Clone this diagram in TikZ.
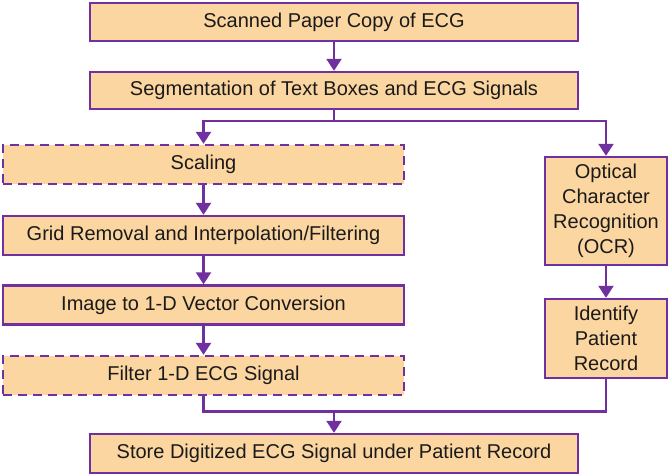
\documentclass[tikz,border=0pt]{standalone}
\usepackage{fontspec}
\setmainfont{Liberation Sans}
\usetikzlibrary{arrows.meta}
\definecolor{boxfill}{RGB}{252,214,160}
\definecolor{boxline}{RGB}{112,48,160}
\definecolor{txt}{RGB}{26,26,26}
\tikzset{
  stage/.style={draw=boxline, fill=boxfill, line width=2.4pt, rectangle,
    inner sep=0pt, text=txt, font=\fontsize{20}{25}\selectfont, align=center},
  wide/.style={stage, minimum width=487.5pt, minimum height=38pt},
  leftbox/.style={stage, minimum width=401pt, minimum height=39pt},
  optbox/.style={leftbox, dash pattern=on 9pt off 6pt},
  sidebox/.style={stage, minimum width=122pt},
  conn/.style={draw=boxline, line width=2.4pt},
  arr/.style={conn, -{Triangle[length=12pt,width=15pt]}}
}
\begin{document}
\begin{tikzpicture}[x=1pt,y=-1pt]
\useasboundingbox (0,0) rectangle (670,476);
\node[wide] (scan) at (334,22) {Scanned Paper Copy of ECG};
\node[wide, minimum height=37pt] (seg) at (334,90.5) {Segmentation of Text Boxes and ECG Signals};
\node[optbox] (scal) at (203.5,164.5) {Scaling};
\node[leftbox] (grid) at (203.5,235.5) {Grid Removal and Interpolation/Filtering};
\node[leftbox] (img) at (203.5,305) {Image to 1-D Vector Conversion};
\node[optbox] (filt) at (203.5,375.5) {Filter 1-D ECG Signal};
\node[wide, minimum height=39pt] (store) at (334,453.5) {Store Digitized ECG Signal under Patient Record};
\node[sidebox, minimum height=108pt] (ocr) at (606,211) {Optical\\Character\\Recognition\\(OCR)};
\node[sidebox, minimum height=79pt] (ident) at (606,338.5) {Identify\\Patient\\Record};
\coordinate (split) at (334,121);
\coordinate (merge) at (334,411.5);
\draw[arr] (scan) -- (seg);
\draw[conn] (seg.south) -- (split);
\draw[arr] (split) -| (scal.north);
\draw[arr] (split) -| (ocr.north);
\draw[arr] (scal) -- (grid);
\draw[arr] (grid) -- (img);
\draw[arr] (img) -- (filt);
\draw[arr] (ocr) -- (ident);
\draw[conn] (filt.south) |- (merge);
\draw[conn] (ident.south) |- (merge);
\draw[arr] (merge) -- (store);
\end{tikzpicture}
\end{document}
